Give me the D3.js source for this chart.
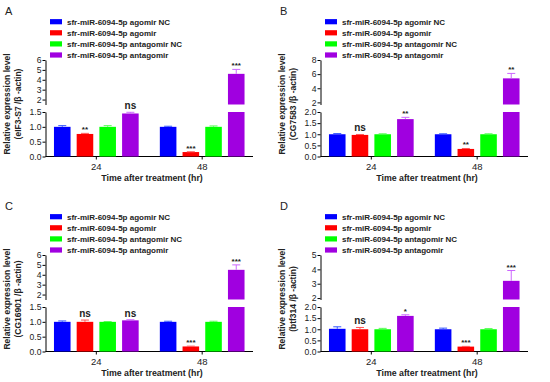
<!DOCTYPE html>
<html><head><meta charset="utf-8">
<script src="https://cdn.jsdelivr.net/npm/d3@7"></script>
<style>body{margin:0;background:#fff}svg{display:block}text{font-family:"Liberation Sans",Arial,sans-serif}</style>
</head><body>
<svg id="chart" width="550" height="382"></svg>
<script>
const series = ["sfr-miR-6094-5p agomir NC","sfr-miR-6094-5p agomir","sfr-miR-6094-5p antagomir NC","sfr-miR-6094-5p antagomir"];
const colors = ["#0000ff","#ff0000","#00ff00","#a000e0"];
const errColors = ["#3355ff","#ff5555","#55ff55","#cc66ff"];
const groups = ["24","48"];
const letters = ["A","B","C","D"];
const genes = ["eIF3-S7","CG7583","CG16901","btf314"];

// values[group][series]
const valuesA = [[1.0,0.76,1.0,1.45],[1.0,0.15,1.0,4.6]];
const errorsA = [[0.04,0.02,0.04,0.04],[0.02,0.01,0.03,0.45]];
const sigA = [["","**","","ns"],["","***","","***"]];
const valuesB = [[1.0,0.97,1.0,1.68],[1.0,0.34,1.0,5.4]];
const errorsB = [[0.03,0.02,0.02,0.08],[0.02,0.02,0.02,0.7]];
const sigB = [["","ns","","**"],["","**","","**"]];
const valuesC = [[1.0,1.0,1.0,1.05],[1.0,0.17,1.0,4.5]];
const errorsC = [[0.03,0.06,0.01,0.02],[0.02,0.01,0.02,0.5]];
const sigC = [["","ns","","ns"],["","***","","***"]];
const valuesD = [[1.02,1.0,1.0,1.6],[1.0,0.22,1.0,3.2]];
const errorsD = [[0.09,0.08,0.04,0.05],[0.05,0.01,0.03,0.72]];
const sigD = [["","ns","","*"],["","***","","***"]];

const lowerTicksA = ["0.0","0.5","1.0","1.5"], upperTicksA = ["2","3","4","5","6"];
const lowerTicksB = ["0.0","0.5","1.0","1.5","2.0"], upperTicksB = ["2","4","6","8"];
const lowerTicksC = ["0.0","0.5","1.0","1.5"], upperTicksC = ["2","3","4","5","6"];
const lowerTicksD = ["0.0","0.5","1.0","1.5","2.0"], upperTicksD = ["2","3","4","5"];
const upperStart = [1.5, 1.7, 1.5, 1.9];

const panels = [
  {values:valuesA, errors:errorsA, sig:sigA, lower:lowerTicksA, upper:upperTicksA},
  {values:valuesB, errors:errorsB, sig:sigB, lower:lowerTicksB, upper:upperTicksB},
  {values:valuesC, errors:errorsC, sig:sigC, lower:lowerTicksC, upper:upperTicksC},
  {values:valuesD, errors:errorsD, sig:sigD, lower:lowerTicksD, upper:upperTicksD}
];
const offsets = [[0,0],[275,0],[0,195],[275,195]];

const svg = d3.select("#chart");

panels.forEach((p, i) => {
  const g = svg.append("g").attr("transform", `translate(${offsets[i][0]},${offsets[i][1]})`);
  const axX = 45.5, axEnd = 253;
  const lowerMax = +p.lower[p.lower.length-1];
  const upperMax = +p.upper[p.upper.length-1];
  const yL = d3.scaleLinear().domain([0, lowerMax]).range([156.5, 112]);
  const yU = d3.scaleLinear().domain([upperStart[i], upperMax]).range([104.5, 60]);
  const x0 = d3.scaleBand().domain(groups).range([axX, axEnd]).paddingInner(0.2).paddingOuter(0.08);
  const x1 = d3.scaleBand().domain(d3.range(series.length)).range([0, x0.bandwidth()]).paddingInner(0.27);

  // letter
  g.append("text").attr("x",5).attr("y",15).attr("font-size",11).attr("fill","#222").text(letters[i]);

  // legend
  series.forEach((s, k) => {
    const ly = 21.7 + k*11.1;
    g.append("rect").attr("x",50).attr("y",ly-2.6).attr("width",12).attr("height",5.2).attr("fill",colors[k]);
    g.append("text").attr("x",67).attr("y",ly+3).attr("font-size",8).attr("font-weight","bold").attr("fill","#222").text(s);
  });

  // y axis label
  const yl = g.append("text").attr("transform","translate(10,104) rotate(-90)").attr("text-anchor","middle")
    .attr("font-size",8.5).attr("font-weight","bold").attr("fill","#222");
  yl.append("tspan").attr("x",0).attr("y",0).text("Relative expression level");
  yl.append("tspan").attr("x",0).attr("y",11).text(`(${genes[i]} /β -actin)`);

  // y axes (segmented)
  const axL = d3.axisLeft(yL).tickValues(p.lower.map(Number)).tickFormat((d,j)=>p.lower[j]).tickSize(3).tickSizeOuter(0);
  const axU = d3.axisLeft(yU).tickValues(p.upper.map(Number)).tickFormat((d,j)=>p.upper[j]).tickSize(3).tickSizeOuter(0);
  [axL, axU].forEach(ax => {
    const ag = g.append("g").attr("transform",`translate(${axX},0)`).call(ax);
    ag.selectAll("text").attr("font-size",8.6).attr("fill","#222").attr("x",-4);
    ag.selectAll("line,path").attr("stroke","#000");
  });

  // x axis
  const xa = g.append("g").attr("transform",`translate(0,${yL(0)})`)
    .call(d3.axisBottom(x0).tickSize(3).tickSizeOuter(0));
  xa.select("path").attr("d",`M${axX},0H${axEnd}`).attr("stroke","#000");
  xa.selectAll("line").attr("stroke","#000");
  xa.selectAll("text").attr("font-size",9.5).attr("fill","#222").attr("dy","0.8em");

  g.append("text").attr("x",152).attr("y",181).attr("text-anchor","middle").attr("font-size",8.8)
    .attr("font-weight","bold").attr("fill","#222").text("Time after treatment (hr)");

  // bars
  groups.forEach((gr, gi) => {
    series.forEach((s, k) => {
      const v = p.values[gi][k], e = p.errors[gi][k];
      const bx = x0(gr) + x1(k), bw = x1.bandwidth();
      const cx = bx + bw/2;
      if (v <= lowerMax) {
        g.append("rect").attr("x",bx).attr("width",bw).attr("y",yL(v)).attr("height",yL(0)-yL(v)).attr("fill",colors[k]);
      } else {
        g.append("rect").attr("x",bx).attr("width",bw).attr("y",yL(lowerMax)).attr("height",yL(0)-yL(lowerMax)).attr("fill",colors[k]);
        g.append("rect").attr("x",bx).attr("width",bw).attr("y",yU(v)).attr("height",yU(upperStart[i])-yU(v)).attr("fill",colors[k]);
      }
      const ys = (val) => val <= lowerMax ? yL(val) : yU(val);
      const yTop = ys(v+e), yBar = ys(v);
      g.append("line").attr("x1",cx).attr("x2",cx).attr("y1",yBar).attr("y2",yTop).attr("stroke",errColors[k]).attr("stroke-width",1);
      g.append("line").attr("x1",cx-4).attr("x2",cx+4).attr("y1",yTop).attr("y2",yTop).attr("stroke",errColors[k]).attr("stroke-width",1);
      const sg = p.sig[gi][k];
      if (sg) {
        const isNs = sg === "ns";
        g.append("text").attr("x",cx).attr("y", yTop - (isNs ? 3 : 1)).attr("text-anchor","middle")
          .attr("font-size", isNs ? 10 : 8).attr("font-weight","bold").attr("fill","#222").text(sg);
      }
    });
  });
});
</script>
</body></html>
